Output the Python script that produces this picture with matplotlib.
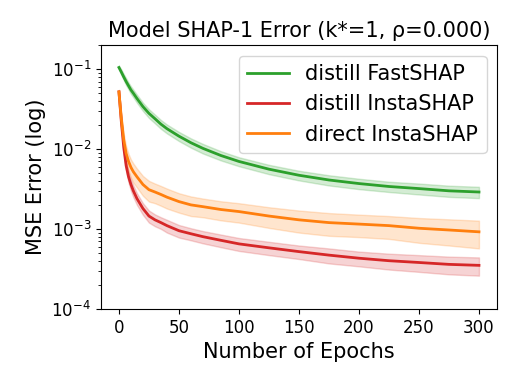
import numpy as np
import matplotlib
matplotlib.use("Agg")
import matplotlib.pyplot as plt

# valeurs (epoques clefs)
epochs = [0, 2, 4, 6, 8, 10, 12, 15, 20, 25, 30, 35, 40, 50, 60, 70, 85, 100,
          125, 150, 175, 200, 225, 250, 275, 300]

fastshap_mean = [0.105, 0.092, 0.080, 0.070, 0.062, 0.055, 0.050, 0.043, 0.034, 0.028,
                 0.024, 0.0205, 0.018, 0.0145, 0.012, 0.0102, 0.0083, 0.0070, 0.0056,
                 0.0047, 0.0041, 0.0037, 0.0034, 0.0032, 0.0030, 0.0029]
fastshap_std = [0.006, 0.007, 0.007, 0.007, 0.006, 0.006, 0.0055, 0.005, 0.004, 0.0035,
                0.003, 0.0026, 0.0023, 0.0019, 0.0016, 0.0014, 0.0011, 0.0009, 0.00075,
                0.00065, 0.0006, 0.00055, 0.0005, 0.0005, 0.00048, 0.00047]

insta_distill_mean = [0.052, 0.022, 0.0105, 0.0062, 0.0045, 0.0036, 0.0030, 0.0024,
                      0.0018, 0.00145, 0.0013, 0.0012, 0.0011, 0.00095, 0.00087, 0.0008,
                      0.00072, 0.00065, 0.00058, 0.00052, 0.00047, 0.00043, 0.0004,
                      0.00038, 0.00036, 0.00035]
insta_distill_std = [0.003, 0.003, 0.0015, 0.0009, 0.0007, 0.0006, 0.0005, 0.0004,
                     0.0003, 0.00025, 0.00022, 0.0002, 0.0002, 0.00017, 0.00015, 0.00014,
                     0.00013, 0.00012, 0.00011, 0.0001, 0.0001, 0.00009, 0.00009,
                     0.00009, 0.00009, 0.00009]

insta_direct_mean = [0.052, 0.024, 0.013, 0.0088, 0.0070, 0.0059, 0.0052, 0.0045,
                     0.0036, 0.0031, 0.0029, 0.0027, 0.0025, 0.0022, 0.0020, 0.0019,
                     0.00175, 0.00165, 0.00145, 0.0013, 0.0012, 0.00115, 0.0011,
                     0.00102, 0.00097, 0.00092]
insta_direct_std = [0.003, 0.003, 0.0025, 0.002, 0.0017, 0.0015, 0.0014, 0.0012, 0.001,
                    0.0009, 0.0008, 0.00075, 0.0007, 0.0006, 0.00055, 0.0005, 0.00047,
                    0.00045, 0.00042, 0.0004, 0.00038, 0.00036, 0.00035, 0.00035,
                    0.00035, 0.00035]

series = [
    ("distill FastSHAP", fastshap_mean, fastshap_std, "tab:green"),
    ("distill InstaSHAP", insta_distill_mean, insta_distill_std, "tab:red"),
    ("direct InstaSHAP", insta_direct_mean, insta_direct_std, "tab:orange"),
]

fig = plt.figure(figsize=(5.15, 3.86), dpi=100)
ax = fig.add_axes([0.196, 0.2, 0.769, 0.683])

x = np.array(epochs)
for nome, media, desvio, cor in series:
    media = np.array(media)
    desvio = np.array(desvio)
    ax.plot(x, media, color=cor, lw=2, label=nome)
    ax.fill_between(x, media - desvio, media + desvio, color=cor, alpha=0.2)

ax.set_yscale("log")
ax.set_ylim(1e-4, 0.2)
ax.set_xticks([0, 50, 100, 150, 200, 250, 300])
ax.tick_params(labelsize=12)
ax.set_xlabel("Number of Epochs", fontsize=15)
ax.set_ylabel("MSE Error (log)", fontsize=15)
ax.set_title("Model SHAP-1 Error (k*=1, ρ=0.000)", fontsize=15)
ax.legend(loc="upper right", fontsize=15)

fig.savefig("out.png", dpi=100)
